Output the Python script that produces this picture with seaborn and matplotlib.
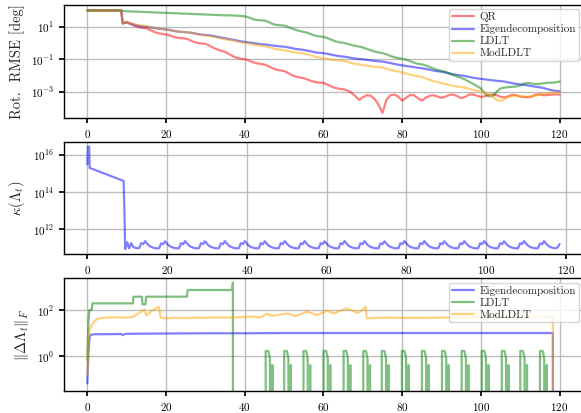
import numpy as np
import pandas as pd
import matplotlib
matplotlib.use("Agg")
import matplotlib.pyplot as plt
import seaborn as sns
from matplotlib.ticker import FixedLocator, NullLocator, FuncFormatter

# ---------------- data (log10 exponents) ----------------
t_rmse = [0, 8.6] + list(range(9, 121))

qr_log = [2.0, 2.0,
    1.20, 1.30, 1.18, 1.05, 0.97, 0.93, 0.90, 0.80, 0.68, 0.60,
    0.56, 0.52, 0.45, 0.37, 0.31, 0.29, 0.27, 0.18, 0.07, 0.00,
    -0.03, -0.06, -0.16, -0.30, -0.40, -0.48, -0.55, -0.68, -0.82, -0.92,
    -0.97, -1.00, -1.08, -1.18, -1.25, -1.29, -1.33, -1.43, -1.55, -1.64,
    -1.69, -1.73, -1.85, -1.98, -2.07, -2.13, -2.17, -2.26, -2.35, -2.41,
    -2.44, -2.46, -2.56, -2.68, -2.77, -2.82, -2.85, -2.92, -3.05, -3.25,
    -3.50, -3.35, -3.22, -3.25, -3.45, -3.80, -4.30, -3.50, -3.22, -3.18,
    -3.30, -3.55, -3.38, -3.20, -3.22, -3.40, -3.55, -3.38, -3.25, -3.22,
    -3.30, -3.38, -3.30, -3.20, -3.18, -3.28, -3.40, -3.32, -3.18, -3.17,
    -3.25, -3.32, -3.28, -3.20, -3.17, -3.22, -3.32, -3.35, -3.28, -3.20,
    -3.22, -3.30, -3.33, -3.35, -3.30, -3.18, -3.17, -3.22, -3.20, -3.18,
    -3.17, -3.18]

eig_log = [2.0, 2.0,
    1.20, 1.25, 1.18, 1.12, 1.05, 1.02, 1.00, 0.96, 0.92, 0.88,
    0.85, 0.83, 0.79, 0.74, 0.70, 0.68, 0.66, 0.64, 0.60, 0.55,
    0.51, 0.49, 0.47, 0.43, 0.38, 0.33, 0.29, 0.24, 0.20, 0.15,
    0.10, 0.06, 0.03, 0.00, -0.04, -0.07, -0.09, -0.12, -0.16, -0.19,
    -0.21, -0.23, -0.27, -0.32, -0.37, -0.40, -0.43, -0.48, -0.53, -0.58,
    -0.61, -0.63, -0.67, -0.72, -0.77, -0.81, -0.84, -0.87, -0.92, -0.96,
    -0.99, -1.01, -1.04, -1.07, -1.10, -1.13, -1.15, -1.19, -1.24, -1.29,
    -1.34, -1.38, -1.42, -1.45, -1.49, -1.53, -1.56, -1.60, -1.65, -1.70,
    -1.74, -1.77, -1.82, -1.88, -1.93, -1.97, -2.00, -2.04, -2.09, -2.14,
    -2.18, -2.21, -2.24, -2.27, -2.30, -2.33, -2.35, -2.38, -2.43, -2.48,
    -2.52, -2.55, -2.58, -2.62, -2.66, -2.70, -2.73, -2.78, -2.85, -2.91,
    -2.95, -2.98]

ldlt_log = [2.0, 2.0,
    1.97, 1.95, 1.94, 1.93, 1.92, 1.91, 1.90, 1.89, 1.88, 1.87,
    1.86, 1.85, 1.84, 1.83, 1.82, 1.81, 1.80, 1.79, 1.78, 1.77,
    1.76, 1.75, 1.74, 1.73, 1.72, 1.71, 1.70, 1.70, 1.69, 1.68,
    1.66, 1.64, 1.57, 1.47, 1.41, 1.39, 1.37, 1.30, 1.17, 1.11,
    1.09, 1.07, 0.98, 0.89, 0.80, 0.73, 0.68, 0.62, 0.52, 0.44,
    0.40, 0.37, 0.30, 0.20, 0.10, 0.04, 0.01, -0.05, -0.12, -0.18,
    -0.22, -0.28, -0.36, -0.45, -0.53, -0.58, -0.63, -0.70, -0.80, -0.88,
    -0.93, -0.97, -1.03, -1.12, -1.22, -1.28, -1.32, -1.38, -1.48, -1.58,
    -1.66, -1.72, -1.78, -1.88, -1.98, -2.07, -2.15, -2.25, -2.38, -2.52,
    -2.65, -2.80, -3.10, -3.28, -3.28, -3.00, -2.80, -2.75, -2.72, -2.70,
    -2.68, -2.62, -2.50, -2.47, -2.50, -2.53, -2.52, -2.48, -2.45, -2.45,
    -2.42, -2.38]

modldlt_log = [2.0, 2.0,
    1.20, 1.25, 1.20, 1.15, 1.10, 1.07, 1.03, 0.98, 0.93, 0.89,
    0.86, 0.83, 0.79, 0.74, 0.70, 0.68, 0.66, 0.64, 0.59, 0.53,
    0.49, 0.46, 0.43, 0.38, 0.33, 0.27, 0.23, 0.20, 0.15, 0.09,
    0.04, 0.00, -0.04, -0.09, -0.14, -0.17, -0.20, -0.26, -0.32, -0.38,
    -0.42, -0.45, -0.50, -0.55, -0.59, -0.62, -0.64, -0.70, -0.78, -0.85,
    -0.90, -0.94, -0.98, -1.03, -1.06, -1.08, -1.10, -1.16, -1.23, -1.29,
    -1.33, -1.36, -1.40, -1.44, -1.47, -1.49, -1.52, -1.58, -1.66, -1.72,
    -1.76, -1.82, -1.88, -1.94, -2.00, -2.05, -2.10, -2.18, -2.28, -2.36,
    -2.42, -2.47, -2.53, -2.60, -2.65, -2.69, -2.72, -2.76, -2.82, -2.88,
    -2.94, -2.99, -3.08, -3.18, -3.30, -3.50, -3.58, -3.45, -3.32, -3.27,
    -3.25, -3.28, -3.30, -3.30, -3.28, -3.22, -3.17, -3.13, -3.10, -3.07,
    -3.05, -3.05]

# condition number kappa(Lambda_t), log10
t_kappa = ([0, 0.15, 0.3, 0.45, 0.6, 9.1, 9.3, 9.5, 10.0, 10.5, 11.0, 11.5, 12.0, 12.5]
           + list(np.arange(13.0, 118.0, 0.5)) + [118.0, 118.4])
kappa_log = [15.5, 16.45, 16.2, 16.45, 15.3, 14.6, 13.0, 10.93, 11.30, 10.97, 11.25, 11.05, 11.00, 10.98,
    10.98, 11.25, 11.20, 11.36, 11.22, 11.12, 11.05, 11.01, 10.98, 10.97,
    10.98, 11.24, 11.20, 11.35, 11.22, 11.12, 11.05, 11.01, 10.98, 10.97,
    10.98, 11.25, 11.19, 11.36, 11.23, 11.12, 11.05, 11.01, 10.98, 10.97,
    10.98, 11.25, 11.20, 11.35, 11.22, 11.11, 11.05, 11.01, 10.98, 10.97,
    10.98, 11.24, 11.20, 11.36, 11.22, 11.12, 11.05, 11.01, 10.98, 10.97,
    10.98, 11.25, 11.20, 11.36, 11.22, 11.12, 11.04, 11.01, 10.98, 10.97,
    10.98, 11.25, 11.19, 11.35, 11.22, 11.12, 11.05, 11.01, 10.98, 10.97,
    10.98, 11.25, 11.20, 11.36, 11.23, 11.12, 11.05, 11.01, 10.98, 10.97,
    10.98, 11.24, 11.20, 11.36, 11.22, 11.12, 11.05, 11.01, 10.98, 10.97,
    10.98, 11.25, 11.20, 11.35, 11.22, 11.12, 11.05, 11.01, 10.98, 10.97,
    10.98, 11.25, 11.20, 11.36, 11.22, 11.11, 11.05, 11.01, 10.98, 10.97,
    10.98, 11.25, 11.19, 11.36, 11.22, 11.12, 11.05, 11.01, 10.98, 10.97,
    10.98, 11.24, 11.20, 11.35, 11.22, 11.12, 11.05, 11.01, 10.98, 10.97,
    10.98, 11.25, 11.20, 11.36, 11.23, 11.12, 11.05, 11.01, 10.98, 10.97,
    10.98, 11.25, 11.20, 11.36, 11.22, 11.12, 11.04, 11.01, 10.98, 10.97,
    10.98, 11.25, 11.19, 11.35, 11.22, 11.12, 11.05, 11.01, 10.98, 10.97,
    10.98, 11.24, 11.20, 11.36, 11.22, 11.12, 11.05, 11.01, 10.98, 10.97,
    10.98, 11.25, 11.20, 11.36, 11.23, 11.12, 11.05, 11.01, 10.98, 10.97,
    10.98, 11.25, 11.20, 11.35, 11.22, 11.11, 11.05, 11.01, 10.98, 10.97,
    10.98, 11.25, 11.20, 11.36, 11.22, 11.12, 11.05, 11.01, 10.98, 10.97,
    10.98, 11.24, 11.19, 11.36, 11.22, 11.12, 11.05, 11.01, 10.98, 10.97,
    11.05, 11.20]

NEG = -np.inf  # value drops to zero (off the log axis)

# ||Delta Lambda_t||_F, log10
t_d_eig = [0, 0.05, 0.3, 0.6, 1.0, 2.0, 5.0, 8.5, 9.0, 9.6, 12, 20, 30, 40, 50, 60, 70, 80, 90,
           100, 110, 118.3, 118.35]
d_eig_log = [-1.19, -0.9, 0.2, 0.85, 0.93, 0.95, 0.95, 0.96, 0.91, 0.96, 0.97, 0.98, 0.99, 0.99,
             1.0, 1.0, 1.0, 1.0, 1.0, 1.0, 1.0, 1.0, NEG]

t_d_mod = [0, 0.2, 0.4, 0.7, 1.5, 2.5, 4, 6, 8, 10, 11.5, 13, 14.5, 15.0, 15.3, 16.5, 18.2, 18.6,
           20, 22, 25, 28, 30, 33, 35, 38, 40, 42, 44, 45.5, 47, 49, 50.7, 53, 55.8, 58.4, 60.9,
           62.6, 64, 66, 68.6, 69.5, 70.7, 71.0, 75, 80, 85, 90, 95, 100, 105, 110, 115, 118.3,
           118.35]
d_mod_log = [-0.85, 0.3, 0.9, 1.2, 1.45, 1.62, 1.66, 1.68, 1.68, 1.67, 1.70, 1.85, 2.03, 1.78,
             1.80, 1.98, 2.14, 1.68, 1.64, 1.66, 1.65, 1.67, 1.66, 1.68, 1.67, 1.68, 1.70, 1.72,
             1.68, 1.84, 1.75, 1.80, 1.85, 1.74, 1.93, 1.78, 1.97, 1.85, 1.95, 2.07, 1.88, 1.95,
             2.14, 1.64, 1.67, 1.66, 1.66, 1.67, 1.68, 1.69, 1.70, 1.70, 1.71, 1.71, NEG]

t_d_ldlt_head = [0, 0.3, 0.5, 1.1, 1.3, 11.6, 11.7, 13.9, 14.0, 14.8, 14.9, 25.3, 25.5, 36.8,
                 37.0, 37.1]
d_ldlt_head_log = [-0.17, 1.5, 2.0, 2.0, 2.29, 2.29, 2.58, 2.58, 2.25, 2.25, 2.58, 2.58, 2.87,
                   2.87, 3.2, NEG]
ldlt_spike_onsets = [45.3, 50.0, 54.9, 60.0, 65.1, 70.1, 74.8, 79.9, 85.0, 90.1, 95.1, 100.2,
                     105.3, 110.0, 115.0]
ldlt_spike_dx = [0, 0.02, 0.7, 1.1, 1.15, 1.7, 1.72, 1.78]
ldlt_spike_log = [NEG, 0.22, 0.22, -0.1, NEG, NEG, -0.39, NEG]

labels = ["QR", "Eigendecomposition", "LDLT", "ModLDLT"]
colors = {"QR": "red", "Eigendecomposition": "blue", "LDLT": "green", "ModLDLT": "orange"}

# ---------------- style ----------------
sns.set_theme(style="ticks")
plt.rcParams.update({
    "font.family": ["cmr10", "DejaVu Serif"],
    "mathtext.fontset": "cm",
    "axes.formatter.use_mathtext": True,
    "axes.unicode_minus": False,
    "axes.edgecolor": "black",
    "axes.linewidth": 1.0,
    "xtick.color": "black",
    "ytick.color": "black",
    "xtick.major.size": 3.5,
    "ytick.major.size": 3.5,
    "xtick.labelsize": 8,
    "ytick.labelsize": 8,
    "legend.fontsize": 8,
})

fig = plt.figure(figsize=(5.81, 4.13), dpi=100)
W, H = 581.0, 413.0
ax1 = fig.add_axes([63.7 / W, 1 - 118 / H, 519.5 / W, 113 / H])
ax2 = fig.add_axes([63.7 / W, 1 - 254.3 / H, 519.5 / W, 112 / H])
ax3 = fig.add_axes([63.7 / W, 1 - 391 / H, 519.5 / W, 112.7 / H])

LW = 1.6
AL = 0.5


def line(ax, x, ylog, name, **kw):
    y = np.power(10.0, np.asarray(ylog, dtype=float))
    sns.lineplot(x=np.asarray(x, dtype=float), y=y, ax=ax, color=colors[name], alpha=AL,
                 linewidth=LW, label=name, estimator=None, sort=False, **kw)


# top panel
rmse = {"QR": qr_log, "Eigendecomposition": eig_log, "LDLT": ldlt_log, "ModLDLT": modldlt_log}
for name in labels:
    line(ax1, t_rmse, rmse[name], name)

# middle panel
line(ax2, t_kappa, kappa_log, "Eigendecomposition")

# bottom panel
line(ax3, t_d_eig, d_eig_log, "Eigendecomposition")
t_ldlt = list(t_d_ldlt_head)
v_ldlt = list(d_ldlt_head_log)
for x0 in ldlt_spike_onsets:
    t_ldlt += [x0 + d for d in ldlt_spike_dx]
    v_ldlt += ldlt_spike_log
line(ax3, t_ldlt, v_ldlt, "LDLT")
line(ax3, t_d_mod, d_mod_log, "ModLDLT")

fmt = FuncFormatter(lambda v, p: r"$10^{%d}$" % int(round(np.log10(v))))
for ax in (ax1, ax2, ax3):
    ax.set_yscale("log", nonpositive="clip")
    ax.yaxis.set_minor_locator(NullLocator())
    ax.yaxis.set_major_formatter(fmt)
    ax.xaxis.set_major_locator(FixedLocator([0, 20, 40, 60, 80, 100, 120]))
    ax.grid(True, color="#bdbdbd", linewidth=1.0)
    ax.set_xlabel("")
    for s in ax.spines.values():
        s.set_color("black")

leg_kw = dict(loc="upper right", fontsize=8, labelspacing=0.2, borderpad=0.25,
              handletextpad=0.5, borderaxespad=0.4)

ax1.set_xlim(-6, 126)
ax1.set_ylim(10 ** -4.62, 10 ** 2.335)
ax1.yaxis.set_major_locator(FixedLocator([1e-3, 1e-1, 1e1]))
ax1.set_ylabel("Rot.  RMSE [deg]", fontsize=10.5)
ax1.legend(**leg_kw)

ax2.set_xlim(-5.92, 124.32)
ax2.set_ylim(10 ** 10.65, 10 ** 16.68)
ax2.yaxis.set_major_locator(FixedLocator([1e12, 1e14, 1e16]))
ax2.set_ylabel(r"$\kappa(\Lambda_t)$", fontsize=10.5)
if ax2.get_legend() is not None:
    ax2.get_legend().remove()

ax3.set_xlim(-6, 126)
ax3.set_ylim(10 ** -1.52, 10 ** 3.38)
ax3.yaxis.set_major_locator(FixedLocator([1e0, 1e2]))
ax3.set_ylabel(r"$\|\Delta\Lambda_t\|_F$", fontsize=10.5)
ax3.legend(**leg_kw)

fig.savefig("out.png", dpi=100)
